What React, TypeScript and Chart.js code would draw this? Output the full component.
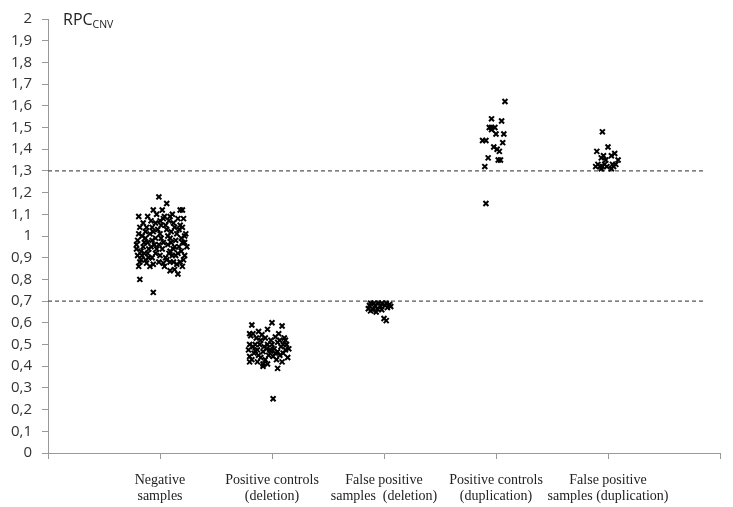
import React, { useEffect, useRef } from "react";
import { Chart, registerables } from "chart.js";

Chart.register(...registerables);

const categories: string[][] = [
  ["Negative", "samples"],
  ["Positive controls", "(deletion)"],
  ["False positive", "samples  (deletion)"],
  ["Positive controls", "(duplication)"],
  ["False positive", "samples (duplication)"],
];

const thresholds = [1.3, 0.7];

// jitter offsets (category units) and RPC values per category
const negX = [-0.01,0.06,0.02,-0.06,-0.11,-0.19,0.18,0.20,0.21,0.04,0.09,0.00,-0.04,0.12,-0.18,-0.12,0.20,0.06,-0.06,0.00,0.15,0.22,-0.20,-0.13,-0.07,0.09,0.03,0.20,-0.21,-0.15,-0.03,0.13,0.24,-0.20,-0.11,0.00,0.09,0.16,0.22,-0.18,-0.12,-0.06,0.03,0.12,0.18,0.09,0.13,0.16,-0.18,-0.06,
  -0.16,-0.09,-0.02,0.05,0.10,0.17,-0.14,-0.08,0.01,0.07,0.14,0.19,-0.17,-0.10,-0.04,0.05,0.11,0.17,-0.19,-0.13,-0.07,-0.01,0.06,0.15,0.21,-0.15,-0.03,0.08,0.13,-0.11,-0.05,0.02,0.10,0.19,-0.21,-0.16,-0.09,0.04,0.08,0.23,-0.13,-0.07,0.01,0.11,0.16,-0.19,-0.04,0.07,0.12,0.22,-0.10,-0.01,0.18,-0.14,0.03,0.14,-0.17,0.09,-0.08,0.20];
const negY = [1.18,1.15,1.12,1.12,1.09,1.09,1.12,1.12,1.08,1.09,1.09,1.07,1.06,1.06,1.04,1.04,1.04,1.03,1.02,1.01,1.01,1.00,0.98,0.99,0.98,0.99,0.97,0.97,0.94,0.95,0.94,0.95,0.95,0.91,0.92,0.91,0.93,0.92,0.91,0.88,0.875,0.87,0.875,0.88,0.88,0.84,0.845,0.825,0.80,0.74,
  1.00,1.01,1.03,1.05,1.02,1.03,0.97,0.95,0.99,0.96,0.98,0.99,0.93,0.90,0.92,0.90,0.91,0.95,0.86,0.89,0.90,0.88,0.89,0.87,0.89,1.06,1.10,1.07,1.04,0.97,0.96,0.94,0.97,0.93,0.96,0.91,0.86,0.86,0.92,1.01,1.02,1.04,1.05,1.10,1.08,1.01,0.99,1.00,0.94,0.97,0.94,0.96,1.05,0.92,1.08,0.91,0.89,0.88,1.07,0.86];

const delX = [-0.18,0.00,0.09,-0.04,-0.20,-0.17,-0.09,-0.06,0.03,0.07,-0.20,-0.15,-0.11,-0.04,0.00,0.10,0.13,-0.21,-0.13,-0.08,-0.02,0.05,0.12,-0.20,-0.12,0.01,0.07,-0.20,-0.08,-0.04,-0.08,0.05,0.01,
  -0.19,-0.14,-0.10,-0.01,0.05,0.11,0.15,-0.17,-0.07,0.02,0.08,-0.16,-0.10,-0.03,0.04,0.10,0.14,-0.18,-0.06,0.09,-0.13,-0.01,0.06,-0.12,0.12,-0.05,0.03,-0.15];
const delY = [0.59,0.60,0.585,0.57,0.55,0.55,0.545,0.53,0.535,0.52,0.50,0.50,0.50,0.50,0.50,0.50,0.50,0.475,0.475,0.467,0.475,0.467,0.475,0.445,0.45,0.445,0.45,0.42,0.41,0.41,0.40,0.39,0.25,
  0.54,0.53,0.52,0.52,0.51,0.53,0.48,0.49,0.49,0.48,0.49,0.46,0.44,0.45,0.43,0.46,0.44,0.43,0.43,0.42,0.42,0.47,0.55,0.56,0.52,0.48,0.46,0.47];

const fpDelX = [-0.12,-0.09,-0.05,-0.02,0.02,0.05,-0.13,-0.08,-0.03,0.01,0.06,-0.14,-0.10,-0.06,-0.02,0.03,-0.12,-0.07,0.00,0.02];
const fpDelY = [0.69,0.69,0.69,0.69,0.69,0.685,0.68,0.68,0.675,0.68,0.675,0.665,0.66,0.665,0.66,0.67,0.655,0.65,0.62,0.61];

const dupX = [0.08,-0.04,0.05,-0.06,-0.04,-0.01,-0.04,0.00,0.07,-0.12,-0.09,0.06,-0.02,0.01,0.03,-0.07,0.02,0.04,-0.10,-0.09];
const dupY = [1.62,1.54,1.53,1.50,1.50,1.50,1.49,1.47,1.47,1.44,1.44,1.43,1.41,1.40,1.39,1.36,1.35,1.35,1.32,1.15];

const fpDupX = [-0.05,-0.10,0.00,0.06,-0.04,0.03,-0.06,-0.02,0.09,-0.09,-0.03,0.04,0.07,-0.11,-0.07,-0.05,-0.01,0.05,-0.06,0.03];
const fpDupY = [1.48,1.39,1.41,1.38,1.37,1.37,1.36,1.35,1.35,1.33,1.33,1.33,1.33,1.32,1.32,1.32,1.32,1.32,1.31,1.31];

const groups = [
  { xs: negX, ys: negY },
  { xs: delX, ys: delY },
  { xs: fpDelX, ys: fpDelY },
  { xs: dupX, ys: dupY },
  { xs: fpDupX, ys: fpDupY },
];

const thresholdEndX = 5.855;

const titlePlugin = {
  id: "rpcTitle",
  afterDraw(chart: any) {
    const ctx = chart.ctx;
    ctx.save();
    ctx.fillStyle = "#222";
    ctx.textBaseline = "alphabetic";
    ctx.textAlign = "left";
    ctx.font = "16px 'Open Sans', sans-serif";
    ctx.fillText("RPC", 63, 25);
    const w = ctx.measureText("RPC").width;
    ctx.font = "10.5px 'Open Sans', sans-serif";
    ctx.fillText("CNV", 63 + w, 28);
    ctx.restore();
  },
};

export default function App() {
  const ref = useRef<HTMLCanvasElement>(null);
  useEffect(() => {
    if (!ref.current) return;
    const scatterSets = groups.map((g, i) => ({
      type: "scatter" as const,
      data: g.xs.map((dx, j) => ({ x: i + 1 + dx, y: g.ys[j] })),
      pointStyle: "crossRot",
      pointRadius: 3.5,
      pointBorderWidth: 2,
      borderColor: "#000",
      backgroundColor: "#000",
      order: 0,
    }));
    const lineSets = thresholds.map((t) => ({
      type: "line" as const,
      data: [
        { x: 0, y: t },
        { x: thresholdEndX, y: t },
      ],
      borderColor: "#555",
      borderWidth: 1.3,
      borderDash: [4, 3],
      pointRadius: 0,
      fill: false,
      order: 5,
    }));
    const chart = new Chart(ref.current, {
      type: "scatter",
      data: { datasets: [...lineSets, ...scatterSets] as any },
      options: {
        animation: false,
        responsive: true,
        maintainAspectRatio: false,
        layout: { padding: { top: 12, right: 12, left: 0, bottom: 0 } },
        plugins: { legend: { display: false }, tooltip: { enabled: false } },
        scales: {
          x: {
            type: "linear",
            min: 0,
            max: 6,
            afterFit: (s: any) => { s.height = 54; },
            grid: { drawOnChartArea: false, drawTicks: true, tickLength: 6, color: "#999" },
            border: { color: "#999", width: 1 },
            ticks: {
              stepSize: 1,
              autoSkip: false,
              maxRotation: 0,
              padding: 13,
              color: "#222",
              font: { family: "'Liberation Serif', serif", size: 14, lineHeight: 1.15 },
              callback: (v: any) => {
                const c = categories[Number(v) - 1];
                return c ? c : "";
              },
            },
          },
          y: {
            min: 0,
            max: 2,
            afterFit: (s: any) => { s.width = 48; },
            grid: { drawOnChartArea: false, drawTicks: true, tickLength: 6, color: "#999" },
            border: { color: "#999", width: 1 },
            ticks: {
              stepSize: 0.1,
              padding: 10,
              color: "#333",
              font: { family: "'Open Sans', sans-serif", size: 15 },
              callback: (v: any) => {
                const n = Math.round(Number(v) * 10) / 10;
                return Number.isInteger(n) ? String(n) : n.toFixed(1).replace(".", ",");
              },
            },
          },
        },
      },
      plugins: [titlePlugin],
    } as any);
    return () => chart.destroy();
  }, []);
  return (
    <div style={{ position: "absolute", left: 0, top: 0, width: 733, height: 507, background: "#fff" }}>
      <canvas ref={ref} />
    </div>
  );
}
